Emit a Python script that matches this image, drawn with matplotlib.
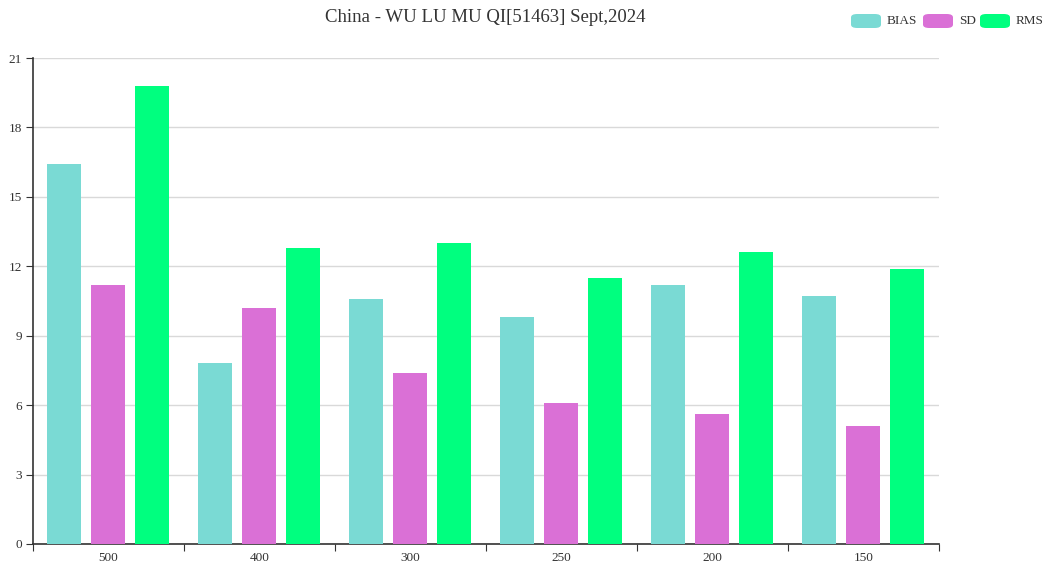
import matplotlib
matplotlib.use("Agg")
import matplotlib.pyplot as plt
import numpy as np
from matplotlib.patches import FancyBboxPatch

categories = ["500", "400", "300", "250", "200", "150"]
bias = [16.4, 7.8, 10.6, 9.8, 11.2, 10.7]
sd = [11.2, 10.2, 7.4, 6.1, 5.6, 5.1]
rms = [19.8, 12.8, 13.0, 11.5, 12.6, 11.9]
series_names = ["BIAS", "SD", "RMS"]
colors = ["#7adad4", "#da70d6", "#00ff7f"]
title = "China - WU LU MU QI[51463] Sept,2024"
yticks = [0, 3, 6, 9, 12, 15, 18, 21]

plt.rcParams['font.family'] = ['Liberation Serif', 'DejaVu Serif']

fig = plt.figure(figsize=(10.5, 5.66), dpi=100)
ax = fig.add_axes([33/1050, 22/566, 906/1050, 486/566])

x = np.arange(len(categories)) + 0.5
w = 0.225
off = 0.29
for i, (vals, c) in enumerate(zip([bias, sd, rms], colors)):
    ax.bar(x + (i - 1) * off - 0.005, vals, width=w, color=c, zorder=3)

ax.set_xlim(0, len(categories))
ax.set_ylim(0, 21)
ax.set_yticks(yticks)
ax.set_yticklabels([str(v) for v in yticks], fontsize=9.5, color="#333333")
ax.set_xticks(np.arange(len(categories) + 1))
ax.set_xticklabels([])
ax.set_xticks(x, minor=True)
ax.set_xticklabels(categories, minor=True, fontsize=9.5, color="#333333")
ax.tick_params(axis='x', which='minor', length=0, pad=6)
ax.tick_params(axis='x', which='major', length=5, color="#333333", direction='out')
ax.tick_params(axis='y', length=5, color="#333333", direction='out', pad=3)
ax.grid(axis='y', color="#d9d9d9", linewidth=1, zorder=0)
for s in ['top', 'right']:
    ax.spines[s].set_visible(False)
for s in ['left', 'bottom']:
    ax.spines[s].set_color("#333333")
    ax.spines[s].set_linewidth(1.2)

fig.text(485/1050, 1 - 17/566, title, ha='center', va='center', fontsize=13.5, color="#333333")

# legend
leg_x = [851, 923, 980]
for lx, name, c in zip(leg_x, series_names, colors):
    p = FancyBboxPatch((lx/1050, 1 - 28/566), 30/1050, 14/566,
                       boxstyle="round,pad=0,rounding_size=0.006",
                       transform=fig.transFigure, facecolor=c, edgecolor='none')
    fig.patches.append(p)
    fig.text((lx + 36)/1050, 1 - 21/566, name, ha='left', va='center', fontsize=9.5, color="#333333")

fig.savefig("out.png", dpi=100)
